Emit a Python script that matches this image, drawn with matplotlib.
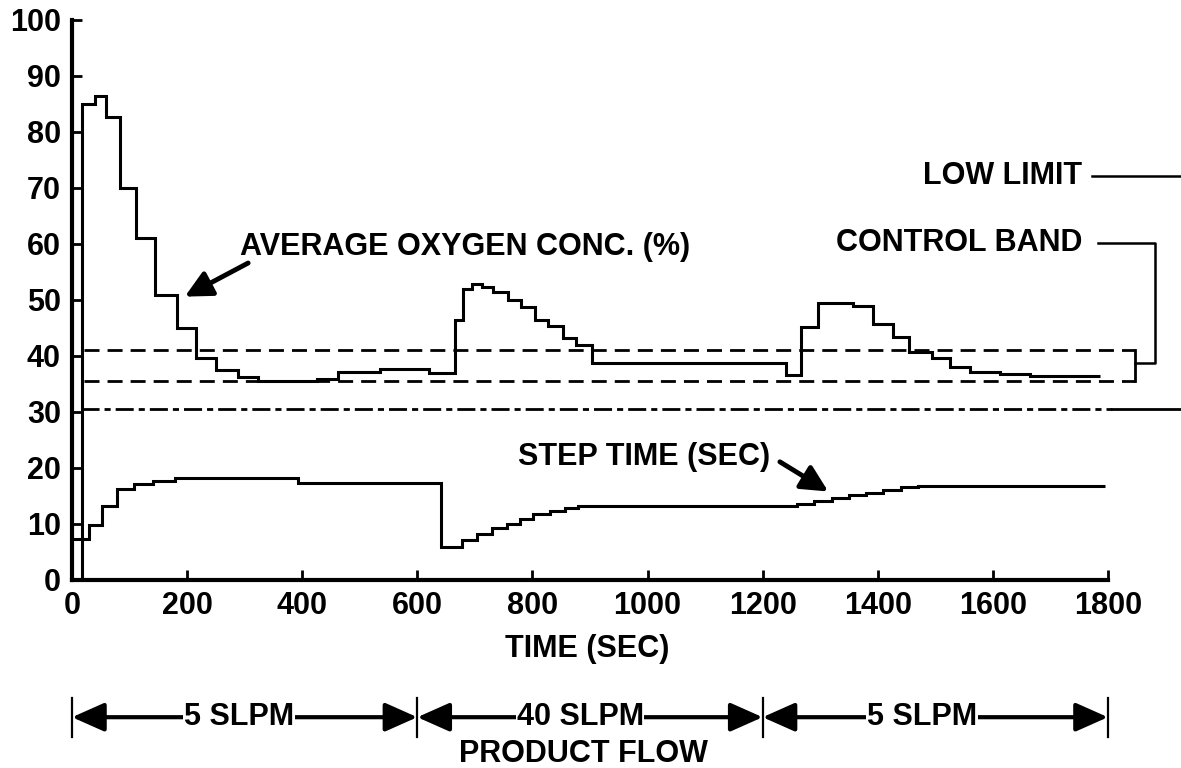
import matplotlib
matplotlib.use('Agg')
import matplotlib.pyplot as plt

# average oxygen concentration (%), step levels between edge times (sec)
o2_edges = [0, 17, 40, 59, 83, 112, 144, 182, 215, 251, 289, 324, 425, 462, 535,
            621, 665, 680, 695, 712, 732, 758, 781, 804, 827, 853, 876, 904,
            1240, 1266, 1297, 1357, 1392, 1426, 1455, 1494, 1525, 1561, 1612,
            1664, 1786]
o2_values = [0, 85, 86.5, 82.7, 70, 61, 50.9, 45, 39.7, 37.5, 36.3, 35.6, 35.9,
             37.1, 37.6, 36.9, 46.4, 51.9, 52.9, 52.3, 51.5, 50.0, 48.8, 46.5,
             45.4, 43.2, 42.0, 38.8, 36.6, 45.2, 49.4, 48.9, 45.8, 43.4, 40.8,
             39.6, 38.1, 37.2, 36.8, 36.5]

# step time (sec)
step_edges = [0, 30, 52, 78, 108, 141, 179, 393, 641, 677, 704, 730, 756, 778,
              801, 830, 856, 879, 1260, 1290, 1320, 1350, 1380, 1410, 1440,
              1470, 1795]
step_values = [7.3, 9.8, 13.2, 16.3, 17.2, 17.6, 18.2, 17.4, 5.9, 7.1, 8.2, 9.2,
               10.0, 10.9, 11.8, 12.3, 12.8, 13.2, 13.6, 14.1, 14.6, 15.1, 15.6,
               16.1, 16.6, 16.8]

band_high = 41.0
band_low = 35.6
low_limit = 30.5

flow_edges = [0, 600, 1200, 1800]
flow_labels = ['5 SLPM', '40 SLPM', '5 SLPM']
flow_label_x = [290, 883, 1477]

x_ticks = list(range(0, 1801, 200))
y_ticks = list(range(0, 101, 10))


def main():
    plt.rcParams['font.family'] = ['Liberation Sans', 'DejaVu Sans']
    plt.rcParams['font.weight'] = 'bold'

    fig = plt.figure(figsize=(11.81, 7.68), dpi=100)
    ax = fig.add_axes([0.061, 0.2448, 0.939, 0.7292])

    ax.stairs(o2_values, o2_edges, baseline=None, color='black', lw=2.2)
    ax.stairs(step_values, step_edges, baseline=None, color='black', lw=2.2)

    # control band and low limit
    dashed = (0, (5.4, 2.9))
    dashdot = (0, (6.5, 1.8, 2.2, 1.8))
    band_end = 1847
    ax.plot([20, band_end], [band_high, band_high], color='black', lw=2, ls=dashed)
    ax.plot([20, band_end], [band_low, band_low], color='black', lw=2, ls=dashed)
    ax.plot([band_end, band_end], [band_low, band_high], color='black', lw=2)
    ax.plot([15, 1807], [low_limit, low_limit], color='black', lw=2, ls=dashdot)
    ax.plot([1807, 1927], [low_limit, low_limit], color='black', lw=2)

    # leader lines for right-hand labels
    mid = 38.8
    ax.plot([band_end, 1882, 1882, 1782], [mid, mid, 60.2, 60.2], color='black', lw=1.8)
    ax.plot([1772, 1927], [72.1, 72.1], color='black', lw=1.8)

    fs = 22
    ax.text(1755, 72.1, 'LOW LIMIT', ha='right', va='center', fontsize=fs)
    ax.text(1755, 60.2, 'CONTROL BAND', ha='right', va='center', fontsize=fs)
    ax.text(292, 59.4, 'AVERAGE OXYGEN CONC. (%)', ha='left', va='center', fontsize=fs)
    ax.text(775, 21.9, 'STEP TIME (SEC)', ha='left', va='center', fontsize=fs)

    arrow = dict(arrowstyle='-|>,head_length=0.8,head_width=0.4', lw=3.5,
                 color='black', shrinkA=0, shrinkB=0, mutation_scale=20)
    ax.annotate('', xy=(196, 50.6), xytext=(306, 56.6), arrowprops=arrow)
    ax.annotate('', xy=(1314, 15.8), xytext=(1230, 21.1), arrowprops=arrow)

    ax.set_xlim(0, 1927)
    ax.set_ylim(0, 100)
    ax.set_xticks(x_ticks)
    ax.set_yticks(y_ticks)
    ax.tick_params(axis='both', direction='in', length=7, width=2,
                   labelsize=fs, pad=8)
    for sp in ['top', 'right']:
        ax.spines[sp].set_visible(False)
    ax.spines['bottom'].set_bounds(0, 1800)
    ax.spines['left'].set_linewidth(3)
    ax.spines['bottom'].set_linewidth(3)

    # x axis title and product flow bracket below the axis
    trans = ax.get_xaxis_transform()
    ax.text(895, -0.123, 'TIME (SEC)', transform=trans, ha='center', va='center',
            fontsize=fs)
    ax.text(888, -0.31, 'PRODUCT FLOW', transform=trans, ha='center', va='center',
            fontsize=fs)

    yb = -0.245
    flow_arrow = dict(arrowstyle='-|>,head_length=0.9,head_width=0.4', lw=3,
                      color='black', shrinkA=0, shrinkB=0, mutation_scale=22)
    for e in flow_edges:
        ax.plot([e, e], [yb + 0.035, yb - 0.035], transform=trans, clip_on=False,
                color='black', lw=1.6)
    for i, label in enumerate(flow_labels):
        cx = flow_label_x[i]
        for end in (flow_edges[i], flow_edges[i + 1]):
            ax.annotate('', xy=(end, yb), xytext=(cx, yb), xycoords=trans,
                        textcoords=trans, arrowprops=flow_arrow,
                        annotation_clip=False)
        ax.text(cx, yb, label, transform=trans, ha='center', va='center',
                fontsize=fs, zorder=5,
                bbox=dict(facecolor='white', edgecolor='none', pad=0.5))

    fig.savefig('out.png', dpi=100)


if __name__ == '__main__':
    main()
